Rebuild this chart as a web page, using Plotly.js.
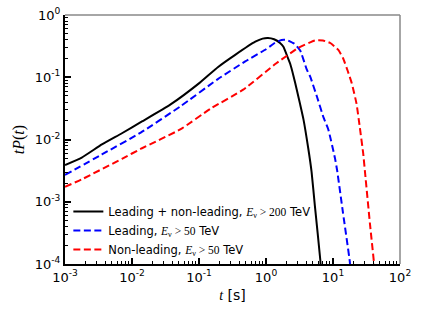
<!DOCTYPE html>
<html>
<head>
<meta charset="utf-8">
<script src="https://cdn.plot.ly/plotly-3.0.1.min.js"></script>
<style>html,body{margin:0;padding:0;background:#fff;}#chart{width:421px;height:316px;}</style>
</head>
<body>
<div id="chart"></div>
<script>
// Leading + non-leading, E_nu > 200 TeV (black, solid)
const tBlack = [0.001, 0.00178, 0.00355, 0.00708, 0.0141, 0.0372, 0.102, 0.191, 0.347, 0.692, 0.891, 1.07, 1.32, 1.62, 1.82, 2.14, 2.29, 2.57, 2.88, 3.24, 3.63, 4.27, 4.79, 5.37, 6.46, 6.61];
const yBlack = [0.00389, 0.00513, 0.00832, 0.0126, 0.0195, 0.0363, 0.0813, 0.145, 0.229, 0.372, 0.417, 0.427, 0.407, 0.355, 0.309, 0.200, 0.166, 0.105, 0.0631, 0.0363, 0.0209, 0.00724, 0.00302, 0.000851, 0.000117, 0.0000794];
// Leading, E_nu > 50 TeV (blue, dashed)
const tBlue = [0.001, 0.00355, 0.0135, 0.0525, 0.191, 0.490, 1.0, 1.35, 1.70, 2.04, 2.63, 3.24, 4.07, 4.57, 5.75, 7.24, 8.51, 10.7, 11.5, 14.1, 17.8, 18.2];
const yBlue = [0.00269, 0.00575, 0.0129, 0.0339, 0.0933, 0.180, 0.282, 0.355, 0.398, 0.398, 0.347, 0.269, 0.132, 0.102, 0.049, 0.0224, 0.0145, 0.00501, 0.00324, 0.000661, 0.00011, 0.0000794];
// Non-leading, E_nu > 50 TeV (red, dashed)
const tRed = [0.001, 0.00178, 0.00708, 0.0141, 0.0525, 0.151, 0.457, 1.41, 3.02, 5.37, 7.08, 9.12, 12.0, 14.1, 16.6, 19.1, 22.4, 25.1, 28.2, 30.2, 35.5, 40.7, 41.7];
const yRed = [0.00174, 0.00229, 0.00490, 0.00724, 0.0145, 0.0316, 0.0631, 0.166, 0.295, 0.389, 0.389, 0.355, 0.275, 0.204, 0.126, 0.0794, 0.038, 0.0158, 0.00603, 0.00282, 0.000457, 0.00011, 0.0000794];

const seriesNames = [
  'Leading + non-leading, <span style="font-family:Liberation Serif"><i>E</i><sub>ν</sub> &gt; 200</span> TeV',
  'Leading, <span style="font-family:Liberation Serif"><i>E</i><sub>ν</sub> &gt; 50</span> TeV',
  'Non-leading, <span style="font-family:Liberation Serif"><i>E</i><sub>ν</sub> &gt; 50</span> TeV'
];

const xTickVals = [0.001, 0.01, 0.1, 1, 10, 100];
const xTickText = ['10<sup>-3</sup>', '10<sup>-2</sup>', '10<sup>-1</sup>', '10<sup>0</sup>', '10<sup>1</sup>', '10<sup>2</sup>'];
const yTickVals = [0.0001, 0.001, 0.01, 0.1, 1];
const yTickText = ['10<sup>-4</sup>', '10<sup>-3</sup>', '10<sup>-2</sup>', '10<sup>-1</sup>', '10<sup>0</sup>'];

function minorVals(lo, hi) {
  const out = [];
  for (let d = lo; d < hi; d++) for (let m = 2; m <= 9; m++) out.push(m * Math.pow(10, d));
  return out;
}

const traces = [
  {x: tBlack, y: yBlack, name: seriesNames[0], mode: 'lines', line: {color: '#000000', width: 2, shape: 'spline', smoothing: 0.4}},
  {x: tBlue, y: yBlue, name: seriesNames[1], mode: 'lines', line: {color: '#0000ff', width: 2, dash: '7px,3.5px', shape: 'spline', smoothing: 0.4}},
  {x: tRed, y: yRed, name: seriesNames[2], mode: 'lines', line: {color: '#ff0000', width: 2, dash: '7px,3.5px', shape: 'spline', smoothing: 0.4}}
];

const layout = {
  width: 421, height: 316,
  margin: {l: 65, r: 21, t: 15, b: 52},
  paper_bgcolor: '#ffffff', plot_bgcolor: '#ffffff',
  font: {family: 'DejaVu Sans', size: 13, color: '#000'},
  showlegend: true,
  legend: {x: 0.01, y: 0.0, xanchor: 'left', yanchor: 'bottom', bgcolor: 'rgba(0,0,0,0)', borderwidth: 0,
           font: {family: 'DejaVu Sans', size: 11.5, color: '#000'}, tracegroupgap: 0},
  xaxis: {
    type: 'log', range: [-3, 2], showgrid: false, zeroline: false,
    showline: true, linecolor: '#000', linewidth: 2, mirror: false,
    ticks: 'inside', ticklen: 6, tickwidth: 2, tickcolor: '#000',
    tickmode: 'array', tickvals: xTickVals, ticktext: xTickText,
    tickfont: {family: 'DejaVu Sans', size: 13},
    minor: {tickmode: 'array', tickvals: minorVals(-3, 2), ticks: 'inside', ticklen: 3, tickwidth: 1, tickcolor: '#000', showgrid: false},
    title: {text: '<span style="font-family:Liberation Serif"><i>t</i></span> [s]', font: {family: 'DejaVu Sans', size: 14}, standoff: 7}
  },
  yaxis: {
    type: 'log', range: [-4, 0], showgrid: false, zeroline: false,
    showline: true, linecolor: '#000', linewidth: 2, mirror: false,
    ticks: 'inside', ticklen: 6, tickwidth: 2, tickcolor: '#000',
    tickmode: 'array', tickvals: yTickVals, ticktext: yTickText,
    tickfont: {family: 'DejaVu Sans', size: 13},
    minor: {tickmode: 'array', tickvals: minorVals(-4, 0), ticks: 'inside', ticklen: 3, tickwidth: 1, tickcolor: '#000', showgrid: false},
    title: {text: '<i>tP</i>(<i>t</i>)', font: {family: 'Liberation Serif', size: 16}, standoff: 6}
  },
  shapes: [
    {type: 'line', xref: 'paper', yref: 'paper', x0: 0, x1: 1, y0: 1, y1: 1, line: {color: '#888888', width: 1.5}},
    {type: 'line', xref: 'paper', yref: 'paper', x0: 1, x1: 1, y0: 0, y1: 1, line: {color: '#888888', width: 1.5}}
  ]
};

Plotly.newPlot('chart', traces, layout, {displayModeBar: false, staticPlot: true});
</script>
</body>
</html>
